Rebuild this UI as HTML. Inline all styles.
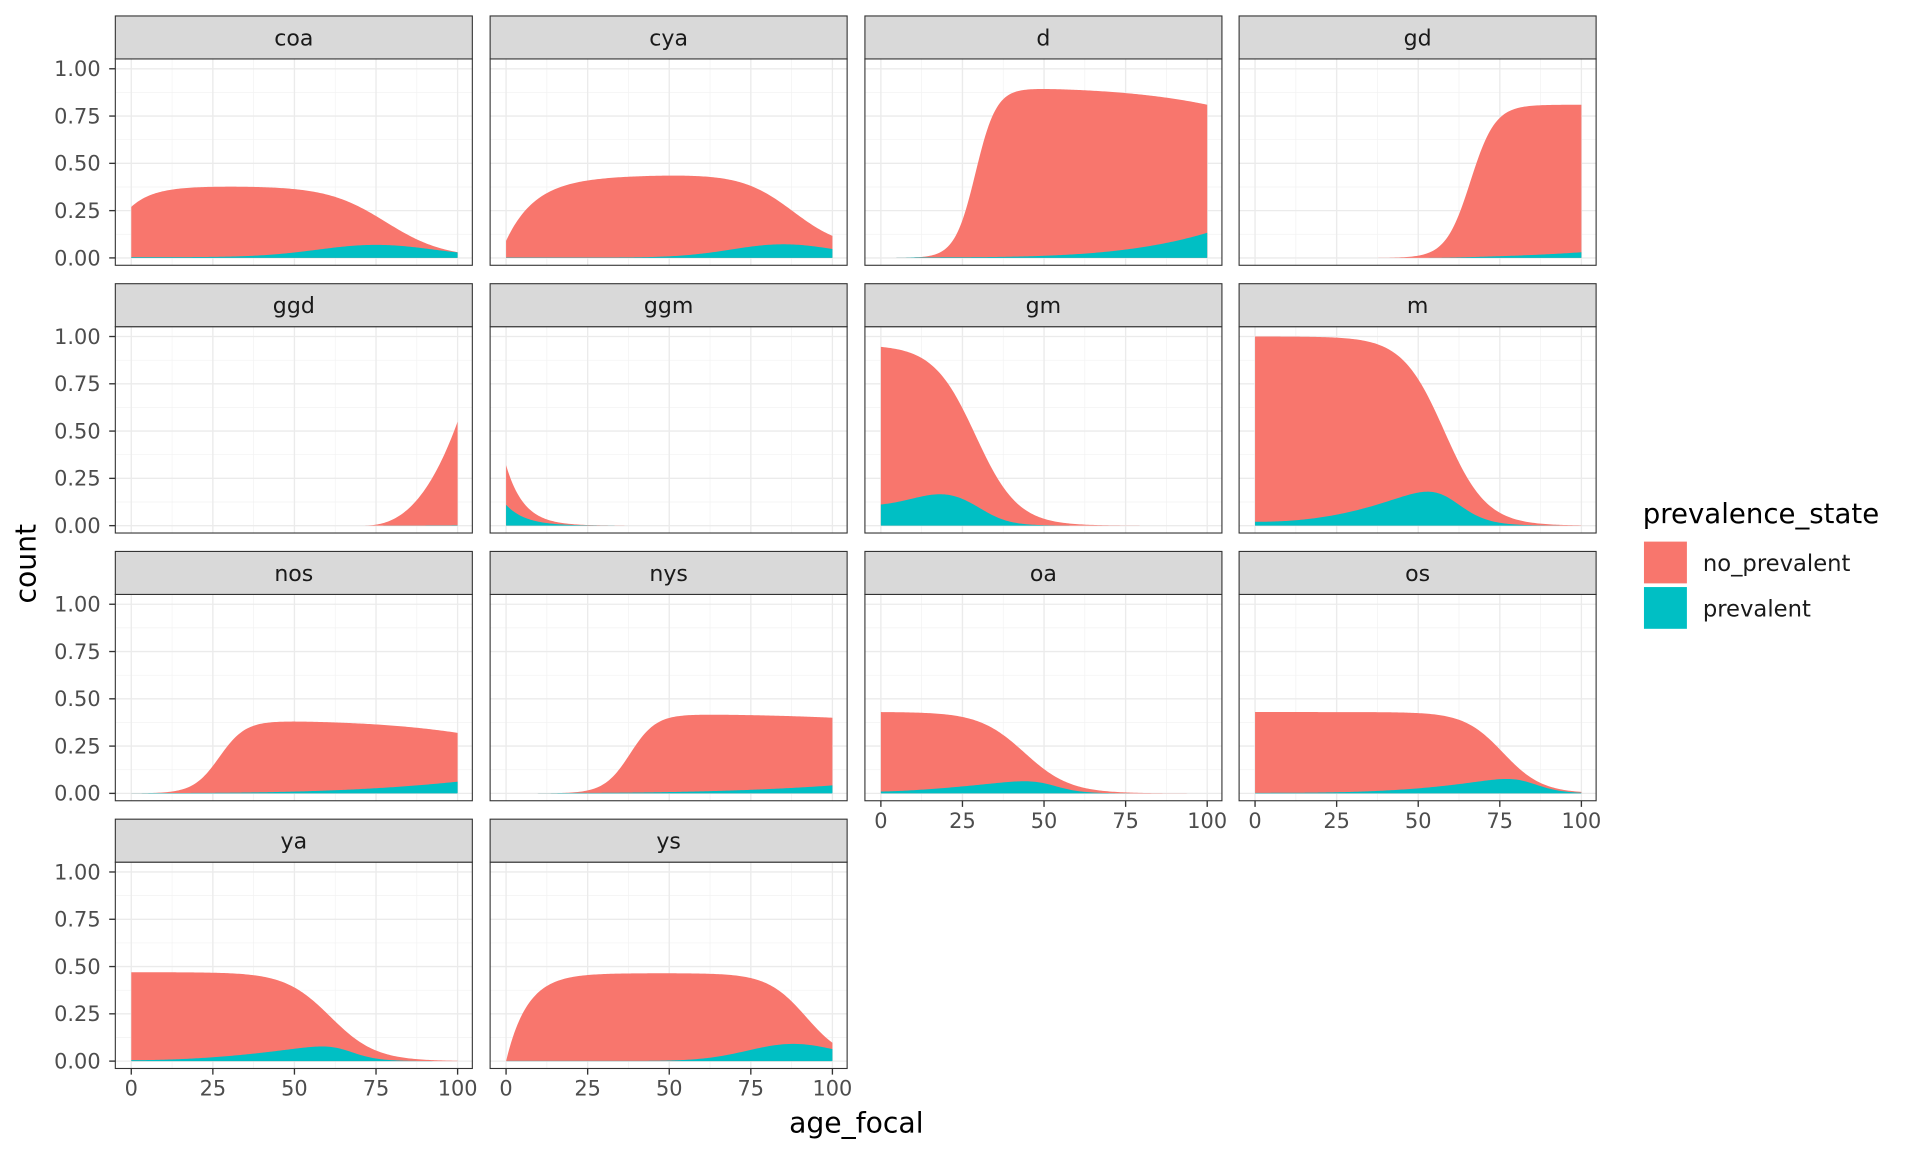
<!DOCTYPE html>
<html><head><meta charset="utf-8"><style>
html,body{margin:0;padding:0;background:#fff;}
svg{display:block;}
text{font-family:"DejaVu Sans","Liberation Sans",sans-serif;}
</style></head><body>
<svg id="s" width="1920" height="1152" viewBox="0 0 1565 938" preserveAspectRatio="none" xmlns="http://www.w3.org/2000/svg">
<rect width="1565" height="938" fill="#fff"/>
<g id="g"></g>
<text x="29" y="459" transform="rotate(-90 29 459)" font-size="23" text-anchor="middle" fill="#000">count</text>
<text x="698" y="922" font-size="23" text-anchor="middle" fill="#000">age_focal</text>
<text x="1339" y="426" font-size="22.5" fill="#000">prevalence_state</text>
<rect x="1340" y="441" width="35" height="34" fill="#F8766D"/>
<rect x="1340" y="478" width="35" height="34" fill="#00BFC4"/>
<text x="1388" y="465" font-size="18.5" fill="#1a1a1a">no_prevalent</text>
<text x="1388" y="502" font-size="18.5" fill="#1a1a1a">prevalent</text>
</svg>
<script>
const L=(x,m,s)=>1/(1+Math.exp(-(x-m)/s));
const G=(x,m,s)=>Math.exp(-((x-m)*(x-m))/(2*s*s));
const P={
coa:[x=>(0.27+0.11*(1-Math.exp(-x/7)))*(1-L(x,78,9))+0.0,x=>0.065*G(x,75,18)+0.004],
cya:[x=>(0.09+0.33*(1-Math.exp(-x/9)))*(1-L(x,88,8))+0.04*x/100,x=>0.07*G(x,85,16)+0.002],
d:[x=>0.9*L(x,29,3.2)-0.09*Math.pow(x/100,4),x=>0.003+0.13*Math.pow(x/100,4)],
gd:[x=>0.81*L(x,66,3.8),x=>0.03*Math.pow(x/100,4)*L(x,60,5)],
ggd:[x=>0.55*Math.pow(Math.max(0,x-70)/30,2.6),x=>0.002*Math.pow(x/100,6)],
ggm:[x=>0.32*Math.exp(-x/5.5),x=>0.11*Math.exp(-x/6)],
gm:[x=>0.95*(1-L(x,29,6.5))/(1-L(0,29,6.5))*0.995,x=>(0.1+0.07*G(x,20,10)*1.0)*(1-L(x,33,4.5))*1.02],
m:[x=>(1-L(x,58,6.5))/(1-L(0,58,6.5)),x=>(0.02+0.17*Math.pow(x/50,2.2))*(1-L(x,60,4.5))*1.02],
nos:[x=>0.385*L(x,27,4)-0.065*Math.pow(x/100,4),x=>0.002+0.06*Math.pow(x/100,3)],
nys:[x=>0.42*L(x,38,4)-0.02*Math.pow(x/100,4),x=>0.002+0.04*Math.pow(x/100,3)],
oa:[x=>0.43*(1-L(x,44,7))/(1-L(0,44,7)),x=>(0.01+0.065*Math.pow(x/45,1.5))*(1-L(x,52,4))],
os:[x=>0.43*(1-L(x,76,6))/(1-L(0,76,6)),x=>(0.003+0.08*Math.pow(x/75,3))*(1-L(x,84,4))],
ya:[x=>0.47*(1-L(x,61,7))/(1-L(0,61,7)),x=>(0.005+0.08*Math.pow(x/57,2))*(1-L(x,66,4))],
ys:[x=>0.465*(1-Math.exp(-x/6.5))*(1-L(x,92,6))/(1-L(0,92,6))+0.0,x=>0.09*G(x,88,14)*1+0.001]
};
const names=["coa","cya","d","gd","ggd","ggm","gm","m","nos","nys","oa","os","ya","ys"];
const colX=[94,399.5,705,1010], rowY=[0,218,436,654];
let h="";
names.forEach((n,i)=>{
 const c=i%4,r=Math.floor(i/4),ox=colX[c],oy=rowY[r];
 const px0=ox,px1=ox+291,top=oy+48,bot=oy+216;
 const X=v=>ox+13+v*2.66, Y=v=>oy+210-v*154;
 h+=`<rect x="${px0}" y="${top}" width="291" height="${bot-top}" fill="#fff"/>`;
 for(let v=12.5;v<100;v+=25)h+=`<line x1="${X(v)}" x2="${X(v)}" y1="${top}" y2="${bot}" stroke="#f2f2f2" stroke-width="0.55"/>`;
 for(let v=0.125;v<1.2;v+=0.25)h+=`<line x1="${px0}" x2="${px1}" y1="${Y(v)}" y2="${Y(v)}" stroke="#f2f2f2" stroke-width="0.55"/>`;
 for(let v=0;v<=100;v+=25)h+=`<line x1="${X(v)}" x2="${X(v)}" y1="${top}" y2="${bot}" stroke="#ebebeb" stroke-width="1.1"/>`;
 for(let v=0;v<=1;v+=0.25)h+=`<line x1="${px0}" x2="${px1}" y1="${Y(v)}" y2="${Y(v)}" stroke="#ebebeb" stroke-width="1.1"/>`;
 const [T,Pv]=P[n];let up=[],pp=[];
 for(let x=0;x<=100;x+=0.5){let t=Math.max(0,T(x)),p=Math.max(0,Math.min(Pv(x),t));up.push([X(x),Y(t)]);pp.push([X(x),Y(p)]);}
 const poly=a=>a.map(q=>q[0].toFixed(2)+","+q[1].toFixed(2)).join(" ");
 h+=`<polygon points="${poly(up)} ${X(100)},${Y(0)} ${X(0)},${Y(0)}" fill="#F8766D"/>`;
 h+=`<polygon points="${poly(pp)} ${X(100)},${Y(0)} ${X(0)},${Y(0)}" fill="#00BFC4"/>`;
 h+=`<rect x="${px0}" y="${top}" width="291" height="${bot-top}" fill="none" stroke="#333" stroke-width="0.9"/>`;
 h+=`<rect x="${px0}" y="${oy+13}" width="291" height="35" fill="#d9d9d9" stroke="#333" stroke-width="0.9"/>`;
 h+=`<text x="${px0+145.5}" y="${oy+37}" font-size="18" text-anchor="middle" fill="#1a1a1a">${n}</text>`;
 if(c==0){["0.00","0.25","0.50","0.75","1.00"].forEach((s,k)=>{const y=Y(k*0.25);
  h+=`<line x1="${px0-5}" x2="${px0}" y1="${y}" y2="${y}" stroke="#333" stroke-width="1.1"/>`;
  h+=`<text x="${px0-12}" y="${y+6}" font-size="17" text-anchor="end" fill="#4d4d4d">${s}</text>`;});}
 if(r==3||(r==2&&c>=2)){[0,25,50,75,100].forEach(v=>{
  h+=`<line x1="${X(v)}" x2="${X(v)}" y1="${bot}" y2="${bot+5}" stroke="#333" stroke-width="1.1"/>`;
  h+=`<text x="${X(v)}" y="${bot+22}" font-size="17" text-anchor="middle" fill="#4d4d4d">${v}</text>`;});}
});
document.getElementById("g").innerHTML=h;
</script>
</body></html>
